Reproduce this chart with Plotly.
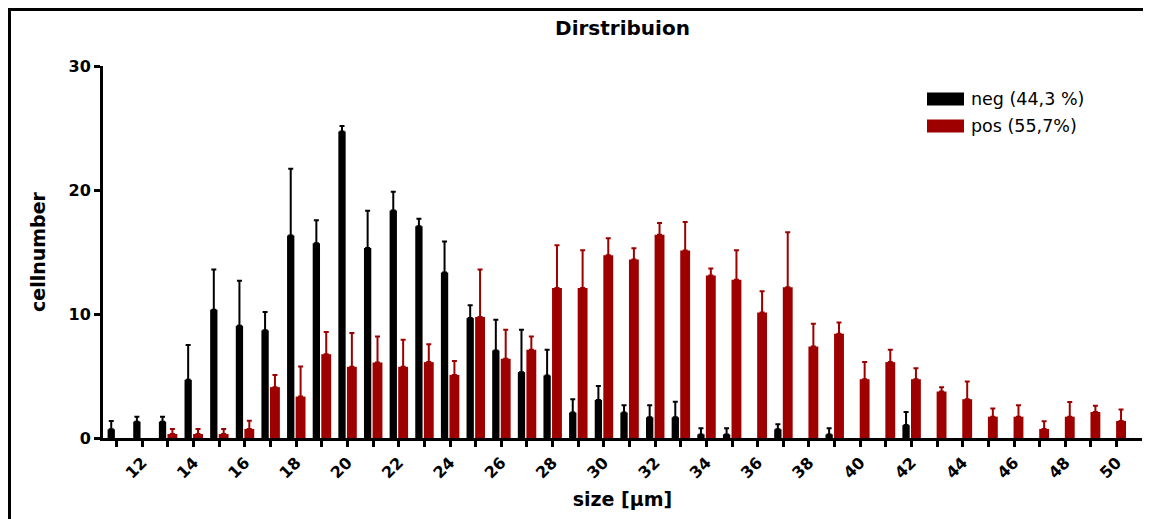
import plotly.graph_objects as go

# ---------------- data ----------------
sizes = list(range(11, 51))  # size classes in µm
size_labels = [str(s) for s in sizes]
tick_text = [str(s) if s % 2 == 0 else "" for s in sizes]

neg_name = "neg (44,3 %)"
pos_name = "pos (55,7%)"

neg_mean = [0.70, 1.32, 1.32, 4.69, 10.35, 9.05, 8.68, 16.33, 15.71, 24.71,
            15.33, 18.35, 17.08, 13.34, 9.67, 7.06, 5.31, 5.04, 2.05, 3.07,
            2.05, 1.67, 1.67, 0.29, 0.29, 0.00, 0.70, 0.00, 0.29, 0.00,
            0.00, 1.04, 0.00, 0.00, 0.00, 0.00, 0.00, 0.00, 0.00, 0.00]
neg_err = [0.67, 0.40, 0.40, 2.80, 3.23, 3.64, 1.48, 5.39, 1.86, 0.46,
           3.00, 1.51, 0.60, 2.51, 1.03, 2.48, 3.42, 2.07, 1.08, 1.13,
           0.59, 0.97, 1.25, 0.49, 0.49, 0.00, 0.40, 0.00, 0.49, 0.00,
           0.00, 1.06, 0.00, 0.00, 0.00, 0.00, 0.00, 0.00, 0.00, 0.00]

pos_mean = [0.00, 0.00, 0.32, 0.32, 0.32, 0.73, 4.10, 3.34, 6.76, 5.74,
            6.09, 5.74, 6.12, 5.09, 9.75, 6.39, 7.11, 12.10, 12.10, 14.74,
            14.39, 16.40, 15.12, 13.10, 12.77, 10.13, 12.15, 7.38, 8.41, 4.74,
            6.12, 4.74, 3.75, 3.13, 1.72, 1.72, 0.73, 1.72, 2.10, 1.37]
pos_err = [0.00, 0.00, 0.41, 0.41, 0.41, 0.67, 0.99, 2.43, 1.78, 2.72,
           2.10, 2.18, 1.45, 1.11, 3.83, 2.34, 1.08, 3.45, 3.04, 1.37,
           0.91, 0.93, 2.29, 0.56, 2.37, 1.70, 4.45, 1.84, 0.91, 1.38,
           0.99, 0.89, 0.35, 1.42, 0.65, 0.92, 0.62, 1.19, 0.51, 0.92]

y_ticks = [0, 10, 20, 30]

# ---------------- style ----------------
# the page body has an 8px margin; the figure is sized to fit the window
OFF = 8
W, H = 1151 - OFF, 519 - OFF
L, R, T, B = 103 - OFF, 9, 66 - OFF, 81
PW, PH = W - L - R, H - T - B
NEG_COLOR = "#000000"
POS_COLOR = "#9E0000"
AX_FONT = "DejaVu Sans"


def px_x(p):
    # p: pixel x in the window -> paper coordinate
    return (p - OFF - L) / PW


def px_y(p):
    return (H - B - (p - OFF)) / PH


def visible(vals, means):
    # hide error bars (and their caps) where there is no bar
    return [v if m > 0 else None for v, m in zip(vals, means)]


fig = go.Figure()
fig.add_trace(go.Bar(
    x=size_labels, y=visible(neg_mean, neg_mean), name=neg_name,
    marker=dict(color=NEG_COLOR, line=dict(width=0)),
    width=0.285, offset=-0.355,
    error_y=dict(type="data", array=visible(neg_err, neg_mean),
                 arrayminus=[0] * len(neg_err),
                 symmetric=False, color=NEG_COLOR, thickness=2, width=2.5),
    showlegend=False,
))
fig.add_trace(go.Bar(
    x=size_labels, y=visible(pos_mean, pos_mean), name=pos_name,
    marker=dict(color=POS_COLOR, line=dict(width=0)),
    width=0.385, offset=-0.02,
    error_y=dict(type="data", array=visible(pos_err, pos_mean),
                 arrayminus=[0] * len(pos_err),
                 symmetric=False, color=POS_COLOR, thickness=2, width=2.5),
    showlegend=False,
))

fig.update_layout(
    width=W, height=H,
    margin=dict(l=L, r=R, t=T, b=B, pad=0),
    paper_bgcolor="white", plot_bgcolor="white",
    barmode="overlay",
    title=dict(text="Dirstribuion", x=0.5, xref="paper", xanchor="center",
               y=1 - (28 - OFF) / H, yref="container", yanchor="middle",
               font=dict(family=AX_FONT, size=20, color="black", weight="bold")),
    xaxis=dict(
        type="category", range=[-0.534, 39.99],
        tickmode="array", tickvals=size_labels, ticktext=tick_text,
        tickangle=-45, ticks="outside", ticklen=6, tickwidth=2.5, tickcolor="black",
        showline=True, linewidth=3, linecolor="black", showgrid=False, zeroline=False,
        tickfont=dict(family=AX_FONT, size=16, color="black", weight="bold"),
        title=dict(text="size [µm]", standoff=12,
                   font=dict(family=AX_FONT, size=19, color="black", weight="bold")),
    ),
    yaxis=dict(
        range=[0, 30], tickmode="array", tickvals=y_ticks,
        ticks="outside", ticklen=6, tickwidth=2.5, tickcolor="black",
        showline=True, linewidth=3, linecolor="black", showgrid=False, zeroline=False,
        tickfont=dict(family=AX_FONT, size=16, color="black", weight="bold"),
        title=dict(text="cellnumber", standoff=18,
                   font=dict(family=AX_FONT, size=19, color="black", weight="bold")),
    ),
)

# custom legend (wide swatches as in the reference)
legend_items = [(neg_name, NEG_COLOR, 99), (pos_name, POS_COLOR, 126)]
for name, color, yc in legend_items:
    fig.add_shape(type="rect", xref="paper", yref="paper",
                  x0=px_x(927), x1=px_x(964), y0=px_y(yc - 6.5), y1=px_y(yc + 6.5),
                  fillcolor=color, line=dict(width=0))
    fig.add_annotation(text=name, xref="paper", yref="paper",
                       x=px_x(969), y=px_y(yc), xanchor="left", yanchor="middle",
                       showarrow=False,
                       font=dict(family=AX_FONT, size=17.5, color="black"))

# outer frame (left and top edges visible in the reference)
frame = dict(color="black", width=3)
fig.add_shape(type="line", xref="paper", yref="paper",
              x0=px_x(9.5), x1=px_x(9.5), y0=px_y(8), y1=px_y(530), line=frame)
fig.add_shape(type="line", xref="paper", yref="paper",
              x0=px_x(8), x1=px_x(1160), y0=px_y(9.5), y1=px_y(9.5), line=frame)

fig.write_html("out.html")
